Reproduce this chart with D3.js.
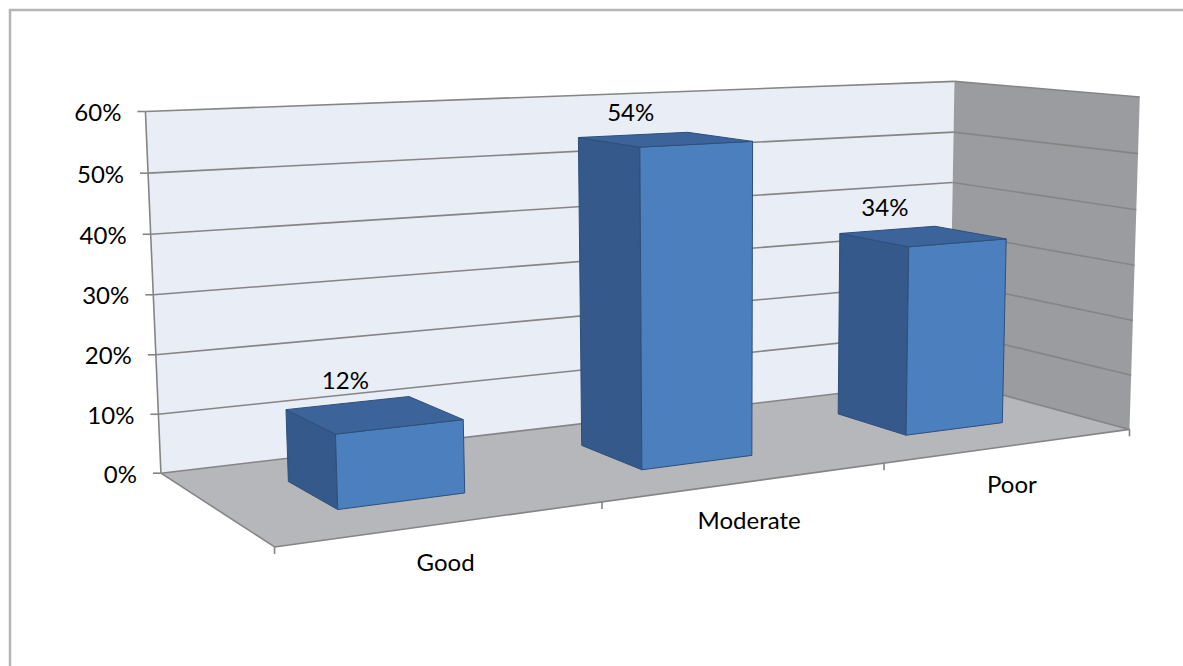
<!DOCTYPE html>
<html>
<head>
<meta charset="utf-8">
<script src="https://cdn.jsdelivr.net/npm/d3@7"></script>
<style>
  html, body { margin: 0; padding: 0; background: #fff; overflow: hidden; }
  svg { display: block; font-family: Lato, "Open Sans", sans-serif; }
</style>
</head>
<body>
<div id="chart"></div>
<script>
const categories = ['Good', 'Moderate', 'Poor']
const shares = [0.12, 0.54, 0.34]
const valueTicks = [0, 0.1, 0.2, 0.3, 0.4, 0.5, 0.6]

const width = 1183
const height = 666

// world box: x = category axis (0..3), y = value axis (0..1), z = depth (0 front .. 1 back)
// screen position of the box corners, used to fit a perspective camera
const anchors = [
  [[0, 0, 1], [160, 470]],
  [[0, 1, 1], [146, 112]],
  [[3, 1, 1], [952, 81]],
  [[3, 0, 1], [952, 383]],
  [[3, 1, 0], [1142, 97]],
  [[3, 0, 0], [1127, 427]],
  [[0, 0, 0], [275, 550]]
]

function solve(M, b) {
  const n = b.length
  const A = M.map((r, i) => [...r, b[i]])
  for (let c = 0; c < n; c++) {
    let p = c
    for (let r = c + 1; r < n; r++) if (Math.abs(A[r][c]) > Math.abs(A[p][c])) p = r
    ;[A[c], A[p]] = [A[p], A[c]]
    for (let r = 0; r < n; r++) {
      if (r === c) continue
      const f = A[r][c] / A[c][c]
      for (let k = c; k <= n; k++) A[r][k] -= f * A[c][k]
    }
  }
  return A.map((r, i) => r[n] / r[i])
}

function fitCamera(pairs) {
  const rows = [], rhs = []
  pairs.forEach(([[X, Y, Z], [u, v]]) => {
    rows.push([X, Y, Z, 1, 0, 0, 0, 0, -u * X, -u * Y, -u * Z]); rhs.push(u)
    rows.push([0, 0, 0, 0, X, Y, Z, 1, -v * X, -v * Y, -v * Z]); rhs.push(v)
  })
  // normal equations
  const n = 11
  const N = d3.range(n).map(i => d3.range(n).map(j => d3.sum(rows, r => r[i] * r[j])))
  const t = d3.range(n).map(i => d3.sum(rows, (r, k) => r[i] * rhs[k]))
  const p = solve(N, t)
  return ([X, Y, Z]) => {
    const w = p[8] * X + p[9] * Y + p[10] * Z + 1
    return [(p[0] * X + p[1] * Y + p[2] * Z + p[3]) / w, (p[4] * X + p[5] * Y + p[6] * Z + p[7]) / w]
  }
}

const project = fitCamera(anchors)

const x = d3.scaleBand().domain(categories).range([0, 3]).paddingInner(0.6).paddingOuter(0.3)
const y = d3.scaleLinear().domain([0, 0.6]).range([0, 1])
const xMax = 3
const barZ = [0.3, 0.7]
const fmt = d3.format('.0%')

const svg = d3.select('#chart').append('svg')
  .attr('width', width)
  .attr('height', height)

svg.append('rect')
  .attr('x', 10).attr('y', 10)
  .attr('width', width + 20).attr('height', height + 20)
  .attr('fill', '#fff')
  .attr('stroke', '#b5b5b5')
  .attr('stroke-width', 2.5)

const poly = d3.line().curve(d3.curveLinearClosed)
const face = pts => poly(pts.map(project))
const seg = (a, b) => [project(a), project(b)]

const g = svg.append('g')

// walls and floor
const yTop = y(0.6)
g.append('path').attr('d', face([[0, 0, 1], [0, yTop, 1], [xMax, yTop, 1], [xMax, 0, 1]]))
  .attr('fill', '#e9edf5')
g.append('path').attr('d', face([[xMax, 0, 1], [xMax, yTop, 1], [xMax, yTop, 0], [xMax, 0, 0]]))
  .attr('fill', '#9b9c9f')
g.append('path').attr('d', face([[0, 0, 0], [0, 0, 1], [xMax, 0, 1], [xMax, 0, 0]]))
  .attr('fill', '#b6b7ba')

// gridlines on back and side walls
const lineStyle = s => s.attr('stroke', '#858585').attr('stroke-width', 1.6).attr('fill', 'none')
valueTicks.forEach(t => {
  g.append('path').attr('d', d3.line()(seg([0, y(t), 1], [xMax, y(t), 1]))).call(lineStyle)
  g.append('path').attr('d', d3.line()(seg([xMax, y(t), 1], [xMax, y(t), 0]))).call(lineStyle)
})

// axis edges
g.append('path').attr('d', d3.line()(seg([0, 0, 1], [0, yTop, 1]))).call(lineStyle)
g.append('path').attr('d', d3.line()(seg([0, 0, 1], [0, 0, 0]))).call(lineStyle)
g.append('path').attr('d', d3.line()(seg([0, 0, 0], [xMax, 0, 0]))).call(lineStyle)

// value axis ticks + labels
valueTicks.forEach(t => {
  const [px, py] = project([0, y(t), 1])
  g.append('line').attr('x1', px - 8).attr('x2', px).attr('y1', py).attr('y2', py)
    .attr('stroke', '#858585').attr('stroke-width', 1.6)
  g.append('text')
    .attr('x', px - 24).attr('y', py)
    .attr('text-anchor', 'end')
    .attr('dominant-baseline', 'central')
    .attr('font-size', 24)
    .attr('fill', '#000')
    .text(fmt(t))
})

// category ticks
d3.range(categories.length + 1).forEach(i => {
  const [px, py] = project([i, 0, 0])
  g.append('line').attr('x1', px).attr('x2', px).attr('y1', py).attr('y2', py + 7)
    .attr('stroke', '#858585').attr('stroke-width', 1.6)
})

// bars
const bars = categories.map((c, i) => ({ cat: c, value: shares[i] }))
bars.forEach(d => {
  const x0 = x(d.cat), x1 = x0 + x.bandwidth()
  const [z0, z1] = barZ
  const h = y(d.value)
  const bg = g.append('g').attr('stroke', '#2e4f7b').attr('stroke-width', 1).attr('stroke-linejoin', 'round')
  bg.append('path').attr('d', face([[x0, 0, z0], [x0, 0, z1], [x0, h, z1], [x0, h, z0]])).attr('fill', '#34598a')
  bg.append('path').attr('d', face([[x0, 0, z0], [x1, 0, z0], [x1, h, z0], [x0, h, z0]])).attr('fill', '#4b7fbe')
  bg.append('path').attr('d', face([[x0, h, z0], [x1, h, z0], [x1, h, z1], [x0, h, z1]])).attr('fill', '#3c649b')
})

// data labels
bars.forEach(d => {
  const [px, py] = project([x(d.cat) + x.bandwidth() / 2, y(d.value), barZ[1]])
  g.append('text')
    .attr('x', px - 3).attr('y', py - 14)
    .attr('text-anchor', 'middle')
    .attr('font-size', 24)
    .attr('fill', '#000')
    .text(fmt(d.value))
})

// category labels
categories.forEach(c => {
  const [px, py] = project([x(c) + x.bandwidth() / 2, 0, 0])
  g.append('text')
    .attr('x', px + 1).attr('y', py + 47)
    .attr('text-anchor', 'middle')
    .attr('font-size', 24)
    .attr('fill', '#000')
    .text(c)
})
</script>
</body>
</html>
